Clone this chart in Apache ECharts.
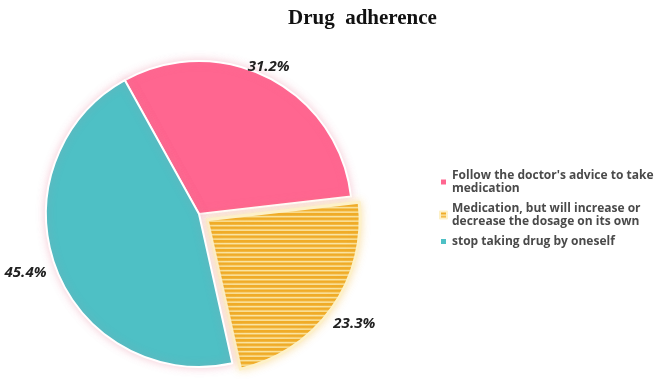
<!DOCTYPE html>
<html><head><meta charset="utf-8">
<script src="https://cdn.jsdelivr.net/npm/echarts@6/dist/echarts.min.js"></script>
<style>html,body{margin:0;padding:0;background:#fff}#c{width:655px;height:388px}</style>
</head><body><div id="c"></div>
<script>
var titleText = 'Drug  adherence';
var categories = ["Follow the doctor's advice to take medication", "Medication, but will increase or decrease the dosage on its own", "stop taking drug by oneself"];
var values = [31.2, 23.3, 45.4];
var colors = ['#FF6690', '#F1B034', '#4EC0C5'];
// label nudges (style only)
var labelShift = [[-30, -4], [-10, 11], [3, 2]];

// striped fill for the second slice
var pc = document.createElement('canvas');
pc.width = 8; pc.height = 9;
var g = pc.getContext('2d');
g.fillStyle = '#FCEAAE'; g.fillRect(0, 0, 8, 9);
g.fillStyle = '#F0AC28'; g.fillRect(0, 0, 8, 3); g.fillRect(0, 4.5, 8, 3);

var chart = echarts.init(document.getElementById('c'));
var data = categories.map(function (n, i) {
  var d = { name: n, value: values[i], itemStyle: { color: colors[i] } };
  if (i === 1) {
    d.selected = true;
    d.itemStyle.color = { image: pc, repeat: 'repeat' };
    d.itemStyle.borderColor = '#FDF1C8';
    d.itemStyle.borderWidth = 3;
    d.itemStyle.shadowColor = 'rgba(240,180,50,0.35)';
  }
  return d;
});
chart.setOption({
  animation: false,
  backgroundColor: '#fff',
  title: { text: titleText, left: 283, top: 3, textStyle: { fontFamily: 'Liberation Serif', fontWeight: 'bold', fontSize: 21, color: '#111' } },
  legend: {
    orient: 'vertical', left: 434, top: 164,
    icon: 'rect', itemWidth: 7, itemHeight: 7, itemGap: 7,
    selectedMode: false,
    textStyle: { fontFamily: 'Open Sans', fontWeight: 'bold', fontSize: 12, color: '#4a4a4a', width: 210, overflow: 'break', lineHeight: 13 }
  },
  series: [{
    type: 'pie',
    center: [199, 214],
    radius: 153,
    startAngle: 119,
    selectedMode: 'single',
    selectedOffset: 10,
    itemStyle: { borderColor: '#fff', borderWidth: 2, shadowBlur: 8, shadowColor: 'rgba(230,120,150,0.35)' },
    label: { show: true, position: 'outside', overflow: 'none', formatter: '{c}%', fontStyle: 'italic', fontWeight: 'bold', fontSize: 15, color: '#222', fontFamily: 'Open Sans' },
    labelLine: { show: false, length: 8, length2: 0 },
    labelLayout: function (p) { var s = labelShift[p.dataIndex]; return { dx: s[0], dy: s[1] }; },
    emphasis: { disabled: true },
    data: data
  }]
});
</script></body></html>
